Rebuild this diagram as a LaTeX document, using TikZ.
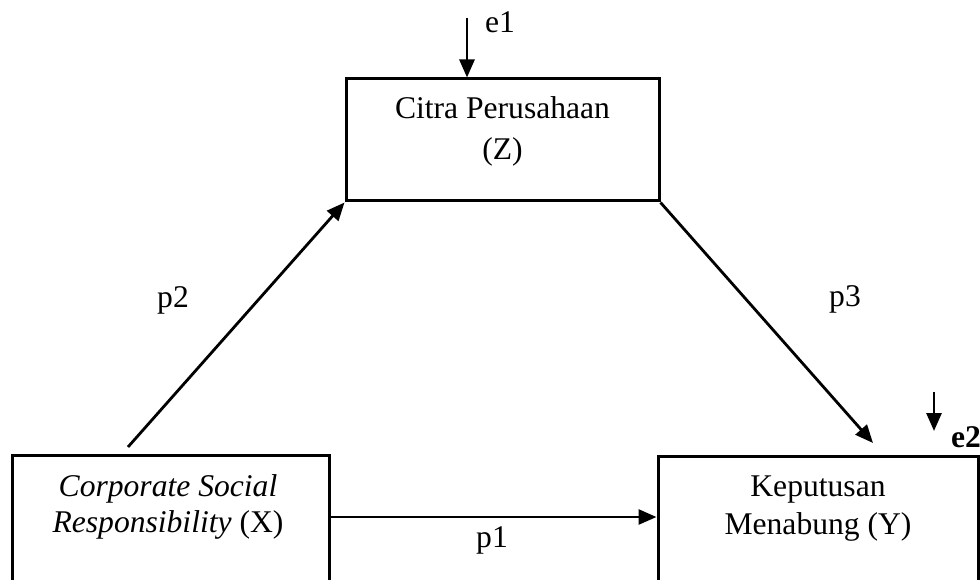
\documentclass[tikz,border=0pt]{standalone}
\usepackage{fontspec}
\setmainfont{Liberation Serif}
\usetikzlibrary{arrows.meta}
\begin{document}
\begin{tikzpicture}[x=1pt,y=-1pt,
  box/.style={draw,line width=3pt,rectangle,inner sep=0pt},
  lbl/.style={inner sep=0pt,anchor=base,font=\fontsize{31.6}{38}\selectfont},
  arr/.style={line width=2.8pt,-{Triangle[length=18pt,width=15pt]}}]
\useasboundingbox (0,0) rectangle (980,580);
\clip (0,0) rectangle (980,580);
\fill[white] (0,0) rectangle (980,580);
% boxes
\node[box,minimum width=313pt,minimum height=122pt] (Z) at (502.5,140) {};
\node[box,minimum width=317pt,minimum height=150pt] (X) at (170.5,530) {};
\node[box,minimum width=320pt,minimum height=149pt] (Y) at (818,530.5) {};
% texts
\node[lbl] (z1) at (502.5,119) {Citra Perusahaan};
\node[lbl] (z2) at (502.5,160) {(Z)};
\node[lbl] (x1) at (168,496) {\textit{Corporate Social}};
\node[lbl] (x2) at (168,532) {\textit{Responsibility} (X)};
\node[lbl] (y1) at (818,496) {Keputusan};
\node[lbl] (y2) at (818,534) {Menabung (Y)};
\node[lbl] (p1) at (492,547) {p1};
\node[lbl] (p2) at (173,307) {p2};
\node[lbl] (p3) at (845,306) {p3};
\node[lbl,anchor=base west] (e1) at (485,33) {e1};
\node[lbl,anchor=base west] (e2) at (951,447) {\textbf{e2}};
% connectors
\coordinate (p2s) at (128,447);
\coordinate (p3e) at (873,443);
\coordinate (p1s) at (329,517);
\coordinate (e1s) at (467,18);
\coordinate (e2s) at (934,392);
\coordinate (e2e) at (934,431);
\draw[arr] (p2s) -- (Z.south west);
\draw[arr] (Z.south east) -- (p3e);
\draw[arr] (p1s) -- (Y.west |- p1s);
\draw[arr] (e1s) -- (e1s |- Z.north);
\draw[arr] (e2s) -- (e2e);
\end{tikzpicture}
\end{document}
